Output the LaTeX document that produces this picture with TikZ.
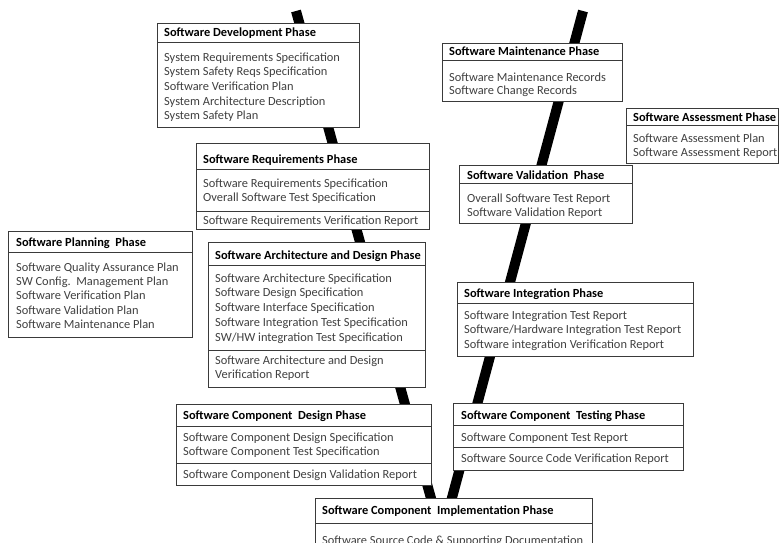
\documentclass[tikz,border=0pt]{standalone}
\usepackage{fontspec}
\setmainfont{Carlito}
\definecolor{bordergray}{HTML}{3A3A3A}
\definecolor{itemgray}{HTML}{404040}
\tikzset{
  pbox/.style={draw=bordergray, line width=1pt, fill=white, anchor=north west, inner sep=0pt},
  divline/.style={draw=bordergray, line width=1pt},
  ttl/.style={anchor=base west, inner sep=0pt, font=\bfseries\fontsize{12.4}{14}\selectfont, text=black},
  itm/.style={anchor=north west, inner sep=0pt, align=left, text=itemgray},
  vline/.style={line width=10pt, black}
}
% \phasebox{name}{x1}{y1}{x2}{y2}
\newcommand\phasebox[5]{%
  \node[pbox, minimum width=#4pt-#2pt, minimum height=#5pt-#3pt] (#1) at (#2,#3) {};}
\begin{document}
\begin{tikzpicture}[x=1pt,y=-1pt]
\useasboundingbox (0,0) rectangle (779,543);
\clip (0,0) rectangle (779,543);
% V-shaped life-cycle lines
\coordinate (ltop) at (296,11);
\coordinate (lbot) at (437,520);
\coordinate (rtop) at (583,11);
\coordinate (rbot) at (446,520);
\draw[vline] (ltop) -- (lbot);
\draw[vline] (rtop) -- (rbot);

% 1 Software Development Phase
\phasebox{dev}{157}{23}{359}{127}
\draw[divline] (157,43) -- (359,43);
\node[ttl] (devt) at (164,37) {Software Development Phase};
\node[itm, font=\fontsize{12.4}{14.6}\selectfont] (devi) at (164,51) {\rule{0pt}{10pt}System Requirements Specification\\System Safety Reqs Specification\\Software Verification Plan\\System Architecture Description\\System Safety Plan};

% 2 Software Requirements Phase
\phasebox{req}{196}{143}{429}{229}
\draw[divline] (196,169) -- (429,169);
\draw[divline] (196,211) -- (429,211);
\node[ttl] (reqt) at (203,163) {Software Requirements Phase};
\node[itm, font=\fontsize{12.4}{14}\selectfont] (reqi) at (203,177) {\rule{0pt}{10pt}Software Requirements Specification\\Overall Software Test Specification};
\node[itm, font=\fontsize{12.4}{14}\selectfont] (reqv) at (203,214) {\rule{0pt}{10pt}Software Requirements Verification Report};

% 3 Software Planning Phase
\phasebox{plan}{8}{231}{192}{337}
\draw[divline] (8,252) -- (192,252);
\node[ttl] (plant) at (16,246) {Software Planning\ \ Phase};
\node[itm, font=\fontsize{12.4}{14.3}\selectfont] (plani) at (16,261) {\rule{0pt}{10pt}Software Quality Assurance Plan\\SW Config.\ \ Management Plan\\Software Verification Plan\\Software Validation Plan\\Software Maintenance Plan};

% 4 Software Architecture and Design Phase
\phasebox{arch}{208}{242}{425}{387}
\draw[divline] (208,265) -- (425,265);
\draw[divline] (208,350) -- (425,350);
\node[ttl] (archt) at (215,259) {Software Architecture and Design Phase};
\node[itm, font=\fontsize{12.4}{14.7}\selectfont] (archi) at (215,272) {\rule{0pt}{10pt}Software Architecture Specification\\Software Design Specification\\Software Interface Specification\\Software Integration Test Specification\\SW/HW integration Test Specification};
\node[itm, font=\fontsize{12.4}{14.7}\selectfont] (archv) at (215,354) {\rule{0pt}{10pt}Software Architecture and Design\\Verification Report};

% 5 Software Component Design Phase
\phasebox{cdes}{176}{404}{431}{485}
\draw[divline] (176,426) -- (431,426);
\draw[divline] (176,463) -- (431,463);
\node[ttl] (cdest) at (183,419) {Software Component\ \ Design Phase};
\node[itm, font=\fontsize{12.4}{14}\selectfont] (cdesi) at (183,431) {\rule{0pt}{10pt}Software Component Design Specification\\Software Component Test Specification};
\node[itm, font=\fontsize{12.4}{14}\selectfont] (cdesv) at (183,468) {\rule{0pt}{10pt}Software Component Design Validation Report};

% 6 Software Component Implementation Phase
\phasebox{impl}{315}{498}{592}{570}
\draw[divline] (315,523) -- (592,523);
\node[ttl] (implt) at (322,514) {Software Component\ \ Implementation Phase};
\node[itm, font=\fontsize{12.4}{14}\selectfont] (impli) at (322,534) {\rule{0pt}{10pt}Software Source Code \& Supporting Documentation};

% 7 Software Maintenance Phase
\phasebox{maint}{442}{43}{622}{101}
\draw[divline] (442,61) -- (622,61);
\node[ttl] (maintt) at (449,56) {Software Maintenance Phase};
\node[itm, font=\fontsize{12.4}{13.5}\selectfont] (mainti) at (449,71) {\rule{0pt}{10pt}Software Maintenance Records\\Software Change Records};

% 8 Software Assessment Phase
\phasebox{assess}{626}{108}{778}{163}
\draw[divline] (626,125) -- (778,125);
\node[ttl] (assesst) at (633,121) {Software Assessment Phase};
\node[itm, font=\fontsize{12.4}{14}\selectfont] (assessi) at (633,132) {\rule{0pt}{10pt}Software Assessment Plan\\Software Assessment Report};

% 9 Software Validation Phase
\phasebox{valid}{459}{165}{632}{223}
\draw[divline] (459,183) -- (632,183);
\node[ttl] (validt) at (467,179) {Software Validation\ \ Phase};
\node[itm, font=\fontsize{12.4}{14}\selectfont] (validi) at (467,192) {\rule{0pt}{10pt}Overall Software Test Report\\Software Validation Report};

% 10 Software Integration Phase
\phasebox{integ}{457}{282}{693}{356}
\draw[divline] (457,303) -- (693,303);
\node[ttl] (integt) at (464,297) {Software Integration Phase};
\node[itm, font=\fontsize{12.4}{14.5}\selectfont] (integi) at (464,309) {\rule{0pt}{10pt}Software Integration Test Report\\Software/Hardware Integration Test Report\\Software integration Verification Report};

% 11 Software Component Testing Phase
\phasebox{ctest}{453}{403}{683}{470}
\draw[divline] (453,425) -- (683,425);
\draw[divline] (453,447) -- (683,447);
\node[ttl] (ctestt) at (461,419) {Software Component\ \ Testing Phase};
\node[itm, font=\fontsize{12.4}{14}\selectfont] (ctesti) at (461,431) {\rule{0pt}{10pt}Software Component Test Report};
\node[itm, font=\fontsize{12.4}{14}\selectfont] (ctestv) at (461,452) {\rule{0pt}{10pt}Software Source Code Verification Report};
\end{tikzpicture}
\end{document}
